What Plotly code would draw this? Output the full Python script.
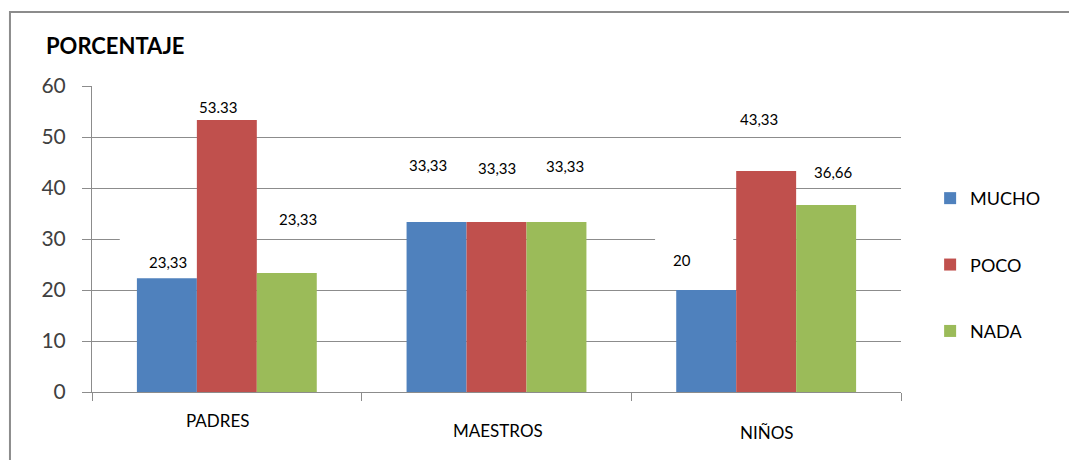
import plotly.graph_objects as go

# ---- data ----
categories = ["PADRES", "MAESTROS", "NIÑOS"]
series_names = ["MUCHO", "POCO", "NADA"]
mucho = [22.3, 33.33, 20]
poco = [53.33, 33.33, 43.33]
nada = [23.33, 33.33, 36.66]
mucho_labels = ["23,33", "33,33", "20"]
poco_labels = ["53.33", "33,33", "43,33"]
nada_labels = ["23,33", "33,33", "36,66"]
y_ticks = [0, 10, 20, 30, 40, 50, 60]

values = [mucho, poco, nada]
labels = [mucho_labels, poco_labels, nada_labels]
colors = ["#4F81BD", "#C0504D", "#9BBB59"]

FONT = "Lato, 'Open Sans', sans-serif"
GRID = "#8c8c8c"
OFF = 8  # page body offset in the browser

# label placement (pixel shifts relative to each bar's top centre)
bar_px = 60
label_dx = [[1, -9, 11], [-9, 0, 8], [-24, -7, 7]]      # [category][series]
label_dy = [[16, 13, 54], [57, 54, 56], [30, 52, 33]]
cat_label_dx = [-9, 1, 1]
cat_label_dy = [-28, -38, -40]

fig = go.Figure()
for s, name in enumerate(series_names):
    fig.add_trace(go.Bar(
        x=categories, y=values[s], name=name, legendgroup=name,
        marker=dict(color=colors[s], line=dict(width=0)),
    ))

annotations = []
for c, cat in enumerate(categories):
    for s in range(3):
        annotations.append(dict(
            x=cat, y=values[s][c], xref="x", yref="y",
            text=labels[s][c], showarrow=False,
            xshift=(s - 1) * bar_px + label_dx[c][s], yshift=label_dy[c][s],
            font=dict(family=FONT, size=15, color="#000000"),
            xanchor="center", yanchor="middle",
        ))
    annotations.append(dict(
        x=cat, y=0, xref="x", yref="y", text=cat, showarrow=False,
        xshift=cat_label_dx[c], yshift=cat_label_dy[c],
        xanchor="center", yanchor="middle",
        font=dict(family=FONT, size=17, color="#000000"),
    ))

# white label backgrounds that interrupt grid lines (like the original)
shapes = [
    dict(type="rect", xref="x", yref="y", x0=-0.397, x1=-0.107, y0=22.7, y1=31.4,
         fillcolor="white", line=dict(width=0), layer="between"),
    dict(type="rect", xref="x", yref="y", x0=-0.174, x1=0.115, y0=55, y1=61,
         fillcolor="white", line=dict(width=0), layer="between"),
    dict(type="rect", xref="x", yref="y", x0=1.588, x1=1.878, y0=20.4, y1=31.4,
         fillcolor="white", line=dict(width=0), layer="between"),
    # chart border (left + top)
    dict(type="path", xref="paper", yref="paper",
         path="M -0.1014 -0.3 L -0.1014 1.2418 L 1.3 1.2418",
         line=dict(color=GRID, width=2)),
]

fig.update_layout(
    width=1077, height=460,
    margin=dict(l=92 - OFF, r=1077 - 901 + OFF, t=86 - OFF, b=460 - 392 + OFF),
    paper_bgcolor="white", plot_bgcolor="white",
    barmode="group", bargap=0.333, bargroupgap=0,
    font=dict(family=FONT, color="#000000"),
    title=dict(text="<b>PORCENTAJE</b>", x=(46 - OFF) / 1077, xanchor="left",
               y=1 - (46 - OFF) / 460, yanchor="middle", yref="container",
               font=dict(family=FONT, size=22, color="#000000")),
    legend=dict(x=1.036, xanchor="left", y=0.693, yanchor="top",
                traceorder="grouped", tracegroupgap=40,
                font=dict(family=FONT, size=18, color="#000000"),
                bgcolor="rgba(0,0,0,0)"),
    annotations=annotations, shapes=shapes,
)
fig.update_yaxes(range=[0, 60], tickvals=y_ticks, showgrid=True, gridcolor=GRID,
                 gridwidth=1, showline=True, linecolor=GRID, linewidth=1,
                 ticks="outside", ticklen=9, tickcolor=GRID, ticklabelstandoff=12,
                 tickfont=dict(family=FONT, size=21, color="#404040"),
                 zeroline=False, fixedrange=True)
fig.update_xaxes(showticklabels=False, showline=True, linecolor=GRID, linewidth=1,
                 ticks="outside", ticklen=8, tickcolor=GRID, tickson="boundaries",
                 showgrid=False, fixedrange=True)

fig.write_html("out.html")
